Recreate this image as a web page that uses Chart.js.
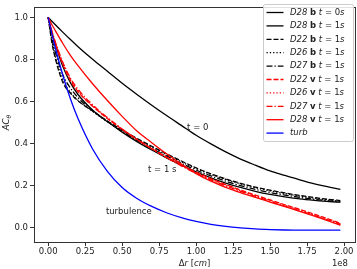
<!DOCTYPE html>
<html>
<head>
<meta charset="utf-8">
<script src="https://cdn.jsdelivr.net/npm/chart.js@4.4.1/dist/chart.umd.min.js"></script>
<style>
    html, body { margin: 0; padding: 0; background: #fff; }
    canvas { display: block; }
</style>
</head>
<body>
<canvas id="acChart" width="357" height="269"></canvas>
<script>
// separation in units of 1e8 cm
const xs = [0, 0.025, 0.05, 0.1, 0.15, 0.2, 0.3, 0.4, 0.5, 0.6, 0.7, 0.8, 0.9, 1.0, 1.1, 1.2, 1.3, 1.4, 1.5, 1.6, 1.7, 1.8, 1.9, 1.975];

const d28bT0 = [1.0, 0.982, 0.964, 0.929, 0.895, 0.862, 0.801, 0.744, 0.687, 0.634, 0.583, 0.534, 0.487, 0.440, 0.399, 0.361, 0.327, 0.298, 0.271, 0.249, 0.228, 0.209, 0.194, 0.183];
const d28bT1 = [1.0, 0.93, 0.87, 0.765, 0.69, 0.635, 0.56, 0.505, 0.455, 0.41, 0.37, 0.333, 0.298, 0.266, 0.238, 0.213, 0.192, 0.174, 0.159, 0.147, 0.138, 0.131, 0.125, 0.122];
const d22bT1 = [1.0, 0.88, 0.80, 0.69, 0.64, 0.605, 0.555, 0.508, 0.465, 0.425, 0.388, 0.352, 0.318, 0.285, 0.257, 0.233, 0.212, 0.194, 0.179, 0.166, 0.154, 0.144, 0.135, 0.130];
const d26bT1 = [1.0, 0.89, 0.81, 0.70, 0.645, 0.607, 0.554, 0.505, 0.461, 0.421, 0.384, 0.348, 0.314, 0.282, 0.254, 0.23, 0.209, 0.191, 0.176, 0.163, 0.151, 0.141, 0.132, 0.127];
const d27bT1 = [1.0, 0.90, 0.83, 0.725, 0.665, 0.62, 0.557, 0.505, 0.458, 0.416, 0.378, 0.342, 0.307, 0.275, 0.247, 0.222, 0.201, 0.183, 0.168, 0.156, 0.145, 0.136, 0.128, 0.124];
const d22vT1 = [1.0, 0.925, 0.87, 0.775, 0.70, 0.648, 0.578, 0.52, 0.468, 0.42, 0.377, 0.337, 0.30, 0.265, 0.234, 0.206, 0.18, 0.156, 0.133, 0.11, 0.088, 0.065, 0.041, 0.022];
const d26vT1 = [1.0, 0.93, 0.875, 0.78, 0.705, 0.652, 0.58, 0.521, 0.468, 0.42, 0.376, 0.335, 0.297, 0.262, 0.231, 0.203, 0.177, 0.153, 0.13, 0.107, 0.085, 0.062, 0.038, 0.019];
const d27vT1 = [1.0, 0.935, 0.88, 0.785, 0.712, 0.66, 0.585, 0.524, 0.47, 0.421, 0.376, 0.334, 0.295, 0.259, 0.228, 0.2, 0.174, 0.15, 0.127, 0.104, 0.082, 0.059, 0.035, 0.016];
const d28vT1 = [1.0, 0.965, 0.935, 0.875, 0.82, 0.772, 0.685, 0.605, 0.53, 0.46, 0.405, 0.352, 0.303, 0.258, 0.222, 0.193, 0.168, 0.145, 0.123, 0.101, 0.079, 0.056, 0.032, 0.012];
const turb = [1.0, 0.922, 0.85, 0.723, 0.614, 0.522, 0.375, 0.269, 0.192, 0.14, 0.102, 0.072, 0.049, 0.031, 0.017, 0.007, 0.0, -0.005, -0.008, -0.01, -0.011, -0.011, -0.011, -0.011];

// legend parts: run name, field letter, time
const runNames = ["D28", "D28", "D22", "D26", "D27", "D22", "D26", "D27", "D28", "turb"];
const fieldNames = ["b", "b", "b", "b", "b", "v", "v", "v", "v", ""];
const times = ["0", "1", "1", "1", "1", "1", "1", "1", "1", ""];

const xTicks = [0, 0.25, 0.5, 0.75, 1.0, 1.25, 1.5, 1.75, 2.0];
const yTicks = [0, 0.2, 0.4, 0.6, 0.8, 1.0];

// curve annotations [text, x, y]
const notes = [
    ["t = 0", 1.011, 0.476],
    ["t = 1 s", 0.771, 0.274],
    ["turbulence", 0.545, 0.077],
];

const FONT = "DejaVu Sans";
const TXT = "#222";

function series(ys) {
    return xs.map((x, i) => ({ x: x, y: ys[i] }));
}

const styles = [
    { data: d28bT0, color: "#000", dash: [] },
    { data: d28bT1, color: "#000", dash: [] },
    { data: d22bT1, color: "#000", dash: [5, 2] },
    { data: d26bT1, color: "#000", dash: [1.3, 2] },
    { data: d27bT1, color: "#000", dash: [6, 2, 1.3, 2] },
    { data: d22vT1, color: "#ff0000", dash: [5, 2] },
    { data: d26vT1, color: "#ff0000", dash: [1.3, 2] },
    { data: d27vT1, color: "#ff0000", dash: [6, 2, 1.3, 2] },
    { data: d28vT1, color: "#ff0000", dash: [] },
    { data: turb, color: "#0000ff", dash: [] },
];

const datasets = styles.map((s, i) => ({
    label: runNames[i],
    data: series(s.data),
    borderColor: s.color,
    borderDash: s.dash,
    borderWidth: 1.3,
    pointRadius: 0,
    showLine: true,
    fill: false,
    cubicInterpolationMode: "monotone",
    order: styles.length - i, // later series on top, like matplotlib
}));

// draw a row of text pieces with different font styles
function drawPieces(ctx, pieces, x, y, size) {
    pieces.forEach((p) => {
        ctx.font = p[1] + " " + size + "px '" + FONT + "'";
        ctx.fillText(p[0], x, y);
        x += ctx.measureText(p[0]).width;
    });
}

const framePlugin = {
    id: "frame",
    afterDraw(chart) {
        const ctx = chart.ctx;
        const a = chart.chartArea;
        ctx.save();
        ctx.strokeStyle = "#333";
        ctx.lineWidth = 1;
        ctx.strokeRect(Math.round(a.left) + 0.5, Math.round(a.top) + 0.5,
            Math.round(a.right - a.left), Math.round(a.bottom - a.top));

        // annotations on the curves
        const xs_ = chart.scales.x;
        const ys_ = chart.scales.y;
        ctx.fillStyle = TXT;
        ctx.font = "8.5px '" + FONT + "'";
        ctx.textAlign = "center";
        ctx.textBaseline = "middle";
        notes.forEach((n) => {
            ctx.fillText(n[0], xs_.getPixelForValue(n[1]), ys_.getPixelForValue(n[2]));
        });

        // x axis title and offset text
        ctx.textAlign = "left";
        ctx.textBaseline = "middle";
        const xt = [["\u0394", "normal"], ["r", "italic"], [" [", "normal"], ["cm", "italic"], ["]", "normal"]];
        let w = 0;
        xt.forEach((p) => {
            ctx.font = p[1] + " 8.5px '" + FONT + "'";
            w += ctx.measureText(p[0]).width;
        });
        const cx = (a.left + a.right) / 2;
        drawPieces(ctx, xt, cx - w / 2, 263.5, 8.5);
        ctx.font = "8.5px '" + FONT + "'";
        ctx.textAlign = "right";
        ctx.fillText("1e8", a.right - 7, 263.5);

        // y axis title, rotated
        ctx.save();
        ctx.translate(7, (a.top + a.bottom) / 2 - 2);
        ctx.rotate(-Math.PI / 2);
        ctx.textAlign = "left";
        ctx.font = "italic 8.5px '" + FONT + "'";
        const wAC = ctx.measureText("AC").width;
        ctx.font = "italic 6px '" + FONT + "'";
        const wT = ctx.measureText("\u03b8").width;
        ctx.font = "italic 8.5px '" + FONT + "'";
        ctx.fillText("AC", -(wAC + wT) / 2, 0);
        ctx.font = "italic 6px '" + FONT + "'";
        ctx.fillText("\u03b8", -(wAC + wT) / 2 + wAC, 2);
        ctx.restore();
        ctx.restore();
    },
};

const legendPlugin = {
    id: "mixedLegend",
    afterDraw(chart) {
        const ctx = chart.ctx;
        const box = { left: 263, top: 4, right: 353, bottom: 141 };
        const rowH = 13.4;
        ctx.save();
        ctx.beginPath();
        ctx.roundRect(box.left + 0.5, box.top + 0.5, box.right - box.left, box.bottom - box.top, 2);
        ctx.fillStyle = "rgba(255,255,255,0.85)";
        ctx.fill();
        ctx.strokeStyle = "#cccccc";
        ctx.lineWidth = 1;
        ctx.stroke();

        chart.data.datasets.forEach((ds, i) => {
            const y = box.top + 8.5 + i * rowH;
            ctx.beginPath();
            ctx.setLineDash(ds.borderDash);
            ctx.strokeStyle = ds.borderColor;
            ctx.lineWidth = 1.3;
            ctx.moveTo(266.5, y);
            ctx.lineTo(283.5, y);
            ctx.stroke();
            ctx.setLineDash([]);

            ctx.fillStyle = TXT;
            ctx.textAlign = "left";
            ctx.textBaseline = "middle";
            let pieces;
            if (fieldNames[i]) {
                pieces = [
                    [runNames[i], "italic"],
                    [" ", "normal"],
                    [fieldNames[i], "bold"],
                    [" ", "normal"],
                    ["t", "italic"],
                    [" = " + times[i], "normal"],
                    ["s", "italic"],
                ];
            } else {
                pieces = [[runNames[i], "italic"]];
            }
            drawPieces(ctx, pieces, 290, y, 8.5);
        });
        ctx.restore();
    },
};

function tickGrid() {
    return {
        display: true,
        drawOnChartArea: false,
        drawTicks: true,
        tickLength: 4,
        tickColor: "#333",
        tickWidth: 1,
    };
}

const ctx = document.getElementById("acChart").getContext("2d");
new Chart(ctx, {
    type: "scatter",
    data: { datasets: datasets },
    plugins: [framePlugin, legendPlugin],
    options: {
        responsive: false,
        animation: false,
        devicePixelRatio: 1,
        layout: { padding: { top: 2, right: 2, left: 0, bottom: 0 } },
        plugins: {
            legend: { display: false },
            tooltip: { enabled: false },
        },
        scales: {
            x: {
                type: "linear",
                min: -0.096,
                max: 2.074,
                grid: tickGrid(),
                border: { display: false },
                afterBuildTicks: (scale) => {
                    scale.ticks = xTicks.map((v) => ({ value: v }));
                },
                afterFit: (scale) => {
                    scale.height = 27;
                },
                ticks: {
                    color: TXT,
                    padding: 1,
                    autoSkip: false,
                    maxRotation: 0,
                    font: { family: FONT, size: 8.5 },
                    callback: (v) => Number(v).toFixed(2),
                },
            },
            y: {
                type: "linear",
                min: -0.067,
                max: 1.049,
                grid: tickGrid(),
                border: { display: false },
                afterBuildTicks: (scale) => {
                    scale.ticks = yTicks.map((v) => ({ value: v }));
                },
                afterFit: (scale) => {
                    scale.width = 34;
                },
                ticks: {
                    color: TXT,
                    padding: 2,
                    autoSkip: false,
                    font: { family: FONT, size: 8.5 },
                    callback: (v) => Number(v).toFixed(1),
                },
            },
        },
    },
});
</script>
</body>
</html>
